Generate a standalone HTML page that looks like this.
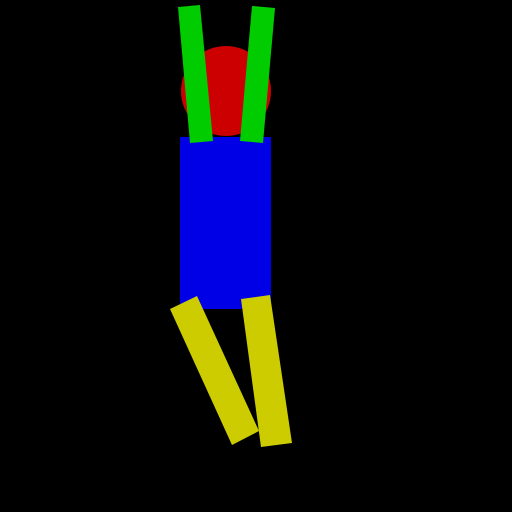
<!DOCTYPE html>
<html>
<head>
<meta charset="utf-8">
<style>
  html,body{margin:0;padding:0;background:#000;}
  svg{display:block;}
</style>
</head>
<body>
<svg width="512" height="512" viewBox="0 0 512 512">
  <rect x="0" y="0" width="512" height="512" fill="#000"/>
  <circle cx="226" cy="91" r="45" fill="#cc0000"/>
  <rect x="180" y="137" width="91" height="172" fill="#0000e6"/>
  <polygon points="178,7 200,5 213,141 190,143" fill="#00cc00"/>
  <polygon points="252,6 275,8 263,143 240,141" fill="#00cc00"/>
  <polygon points="170,309 197,296 259,431 232,445" fill="#cccc00"/>
  <polygon points="241,299 270,295 292,443 261,447" fill="#cccc00"/>
</svg>
</body>
</html>
